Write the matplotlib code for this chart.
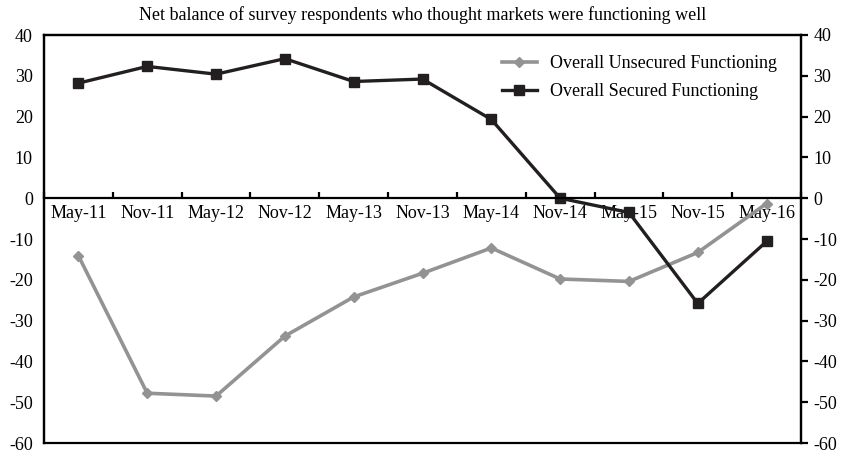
import matplotlib.pyplot as plt

plt.rcParams['font.family'] = ['Liberation Serif', 'DejaVu Serif']
plt.rcParams['axes.unicode_minus'] = False

# survey dates
dates = ['May-11', 'Nov-11', 'May-12', 'Nov-12', 'May-13', 'Nov-13',
         'May-14', 'Nov-14', 'May-15', 'Nov-15', 'May-16']
# net balances (%)
unsecured = [-14.1, -47.8, -48.5, -33.8, -24.2, -18.4, -12.2, -19.8, -20.4, -13.3, -1.3]
secured = [28.2, 32.3, 30.4, 34.2, 28.6, 29.2, 19.3, 0.0, -3.5, -25.8, -10.6]

grey = '#939393'
black = '#231f20'

fig = plt.figure(figsize=(8.41, 4.54), dpi=100)
ax = fig.add_axes([44 / 841, 11 / 454, 757 / 841, 408 / 454])
x = list(range(len(dates)))

ax.plot(x, unsecured, color=grey, lw=2.6, marker='D', ms=5.5,
        label='Overall Unsecured Functioning')
ax.plot(x, secured, color=black, lw=2.4, marker='s', ms=7.5,
        label='Overall Secured Functioning')

ax.set_xlim(-0.5, 10.5)
ax.set_ylim(-60, 40)
ax.set_yticks(range(-60, 41, 10))
ax.tick_params(axis='y', length=0, pad=8, labelsize=13)

# category axis sits on the zero line
ax.spines['bottom'].set_position(('data', 0))
ax.spines['bottom'].set_linewidth(1.6)
ax.set_xticks(x)
ax.set_xticklabels(dates)
ax.tick_params(axis='x', which='major', length=0, pad=5, labelsize=13)
ax.set_xticks([i - 0.5 for i in range(len(dates) + 1)], minor=True)
ax.tick_params(axis='x', which='minor', direction='in', length=4, width=1.6)
for s in ['left', 'top', 'right']:
    ax.spines[s].set_linewidth(1.6)

ax2 = ax.twinx()
ax2.set_ylim(-60, 40)
ax2.set_yticks(range(-60, 41, 10))
ax2.tick_params(axis='y', direction='out', length=5, width=1.6, pad=4, labelsize=13)
for s in ax2.spines.values():
    s.set_linewidth(1.6)

ax.set_title('Net balance of survey respondents who thought markets were functioning well',
             fontsize=13, pad=11)

ax.legend(loc='upper right', bbox_to_anchor=(0.99, 0.99), frameon=False,
          fontsize=13, handlelength=1.9, handletextpad=0.75, labelspacing=0.6)

fig.savefig('out.png', dpi=100)
